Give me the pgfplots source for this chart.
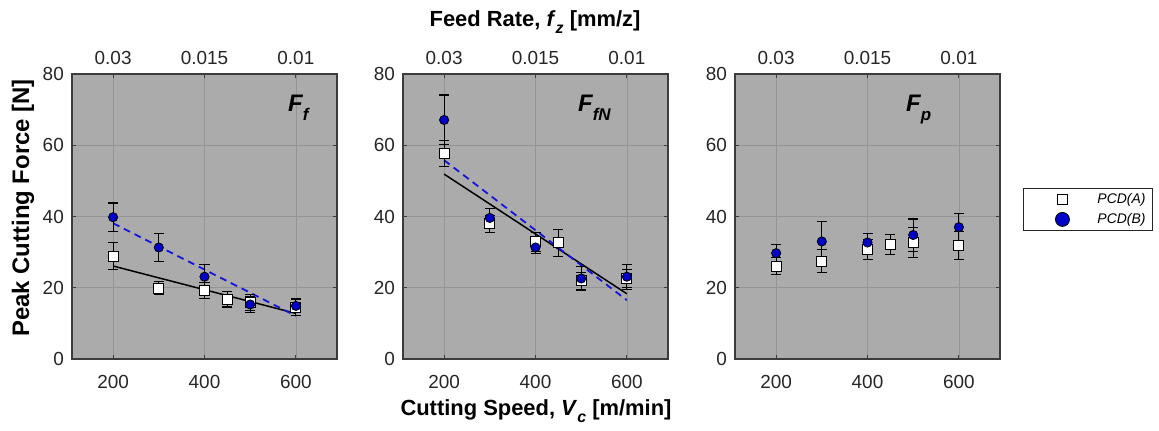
\documentclass[border=0pt]{standalone}
\usepackage{fontspec}
\setmainfont{Liberation Sans}
\usepackage{pgfplots}
\pgfplotsset{compat=1.18}
\usepackage{pgfplotstable}

\definecolor{bg}{RGB}{171,171,171}
\definecolor{gridc}{RGB}{148,148,148}
\definecolor{axc}{RGB}{60,60,60}
\definecolor{tickc}{RGB}{38,38,38}
\definecolor{mblue}{RGB}{0,0,200}
\definecolor{lblue}{RGB}{20,20,220}

% Panel 1: F_f
\pgfplotstableread{
x y e
200 28.9 3.7
300 19.9 1.9
400 19.2 2.3
450 16.8 2.2
500 15.9 2.3
600 14.5 2.4
}\FfA
\pgfplotstableread{
x y e
200 39.8 4.0
300 31.3 3.9
400 23.1 3.5
500 15.3 2.3
600 14.9 1.9
}\FfB
% Panel 2: F_fN
\pgfplotstableread{
x y e
200 57.7 3.6
300 37.9 2.4
400 32.9 2.6
450 32.6 3.8
500 22.0 2.4
600 22.6 2.6
}\FfNA
\pgfplotstableread{
x y e
200 67.1 7.0
300 39.6 2.7
400 31.3 1.8
500 22.6 3.4
600 23.1 3.5
}\FfNB
% Panel 3: F_p
\pgfplotstableread{
x y e
200 26.1 2.3
300 27.5 3.2
400 30.7 2.8
450 32.2 2.8
500 32.7 4.1
600 31.9 3.9
}\FpA
\pgfplotstableread{
x y e
200 29.7 2.5
300 33.0 5.5
400 32.7 2.5
500 34.8 4.5
600 37.0 3.9
}\FpB

\newcommand{\tickfont}{\fontsize{19}{19}\selectfont}
\newcommand{\labfont}{\fontsize{22}{22}\selectfont\bfseries}

\pgfplotsset{
  panel/.style={
    scale only axis, width=265bp, height=285bp,
    anchor=south west,
    xmin=110, xmax=690, ymin=0, ymax=80,
    xtick={200,400,600}, ytick={0,20,40,60,80},
    axis background/.style={fill=bg},
    grid=major, major grid style={gridc, line width=0.7bp},
    axis line style={axc, line width=1.1bp},
    tick style={axc, line width=0.8bp}, major tick length=4bp, tick align=inside,
    xtick pos=both, ytick pos=both,
    xticklabel pos=lower, yticklabel pos=left,
    ticklabel style={font=\tickfont, text=tickc},
    /pgf/number format/assume math mode=true,
    xticklabel style={inner sep=0pt, anchor=north, yshift=-16bp},
    yticklabel style={inner sep=0pt, anchor=east, xshift=-8bp},
  },
  toppanel/.style={
    scale only axis, width=265bp, height=285bp,
    anchor=south west,
    xmin=110, xmax=690, ymin=0, ymax=80,
    xtick={200,400,600}, xticklabels={0.03,0.015,0.01},
    ytick=\empty,
    axis line style={draw=none}, tick style={draw=none},
    xticklabel pos=upper,
    ticklabel style={font=\tickfont, text=tickc},
    xticklabel style={inner sep=0pt, anchor=south, yshift=9bp},
  },
  serA/.style={only marks, mark=square*, mark size=5bp,
    mark options={fill=white, draw=black, line width=1bp},
    error bars/.cd, y dir=both, y explicit,
    error bar style={black, line width=1.1bp},
    error mark options={black, line width=1.1bp, mark size=5bp, rotate=90},
    /pgfplots/.cd},
  serB/.style={only marks, mark=*, mark size=4.6bp,
    mark options={fill=mblue, draw=black, line width=0.8bp},
    error bars/.cd, y dir=both, y explicit,
    error bar style={black, line width=1.1bp},
    error mark options={black, line width=1.1bp, mark size=5bp, rotate=90},
    /pgfplots/.cd},
  fitA/.style={black, line width=1.5bp, no marks},
  fitB/.style={lblue, line width=1.8bp, no marks, dash pattern=on 7bp off 5bp},
}

\begin{document}
\begin{tikzpicture}
\path[use as bounding box] (0bp,0bp) rectangle (1159bp,431bp);

% ---------- Panel 1 ----------
\begin{axis}[panel, at={(72bp,72bp)}]
\addplot[fitA] coordinates {(200,26.1) (600,12.8)};
\addplot[fitB] coordinates {(200,38.1) (600,12.1)};
\addplot[serA] table[x=x, y=y, y error=e] {\FfA};
\addplot[serB] table[x=x, y=y, y error=e] {\FfB};
\end{axis}
\begin{axis}[toppanel, at={(72bp,72bp)}]
\end{axis}

% ---------- Panel 2 ----------
\begin{axis}[panel, at={(403bp,72bp)}]
\addplot[fitA] coordinates {(200,51.9) (600,18.3)};
\addplot[fitB] coordinates {(200,55.8) (600,16.5)};
\addplot[serA] table[x=x, y=y, y error=e] {\FfNA};
\addplot[serB] table[x=x, y=y, y error=e] {\FfNB};
\end{axis}
\begin{axis}[toppanel, at={(403bp,72bp)}]
\end{axis}

% ---------- Panel 3 ----------
\begin{axis}[panel, at={(735bp,72bp)},
  legend style={at={(1.087,0.6)}, anchor=north west, draw=tickc, line width=0.8bp,
    fill=white, inner xsep=0pt, inner ysep=1bp,
    font=\fontsize{14}{14}\selectfont\itshape,
    nodes={inner sep=0pt, minimum height=20bp}, row sep=0pt, column sep=0pt},
  legend cell align=left,
  legend image code/.code={\path[draw=none, fill=none] (0bp,-7bp) rectangle (74bp,7bp);
     \draw[#1] plot coordinates {(39bp,0bp)};},
]
\addplot[legend image post style={mark size=5.3bp}, serA] table[x=x, y=y, y error=e] {\FpA};
\addlegendentry{PCD(A)\hspace*{7bp}}
\addplot[legend image post style={mark size=7bp}, serB] table[x=x, y=y, y error=e] {\FpB};
\addlegendentry{PCD(B)\hspace*{7bp}}
\end{axis}
\begin{axis}[toppanel, at={(735bp,72bp)}]
\end{axis}

% ---------- Panel labels ----------
\node[anchor=base west, inner sep=0pt] at (288bp,319bp)
  {\fontsize{24}{24}\selectfont\bfseries\itshape F\raisebox{-9bp}{\fontsize{17}{17}\selectfont f}};
\node[anchor=base west, inner sep=0pt] at (578bp,319bp)
  {\fontsize{24}{24}\selectfont\bfseries\itshape F\raisebox{-9bp}{\fontsize{17}{17}\selectfont fN}};
\node[anchor=base west, inner sep=0pt] at (906bp,319bp)
  {\fontsize{24}{24}\selectfont\bfseries\itshape F\raisebox{-9bp}{\fontsize{17}{17}\selectfont p}};

% ---------- Axis labels ----------
\node[rotate=90, inner sep=0pt] at (23bp,223bp)
  {\fontsize{24}{24}\selectfont\bfseries Peak Cutting Force [N]};
\node[anchor=base, inner sep=0pt] at (536bp,16bp)
  {\labfont Cutting Speed, \textit{V}\raisebox{-7bp}{\fontsize{16}{16}\selectfont\itshape c} [m/min]};
\node[anchor=base, inner sep=0pt] at (535bp,404bp)
  {\labfont Feed Rate, \textit{f}\raisebox{-7bp}{\fontsize{16}{16}\selectfont\itshape z} [mm/z]};
\end{tikzpicture}
\end{document}
